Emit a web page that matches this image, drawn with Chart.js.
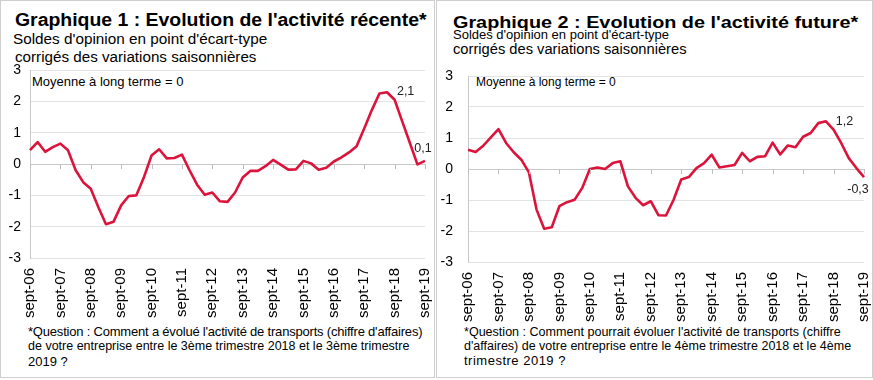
<!DOCTYPE html>
<html><head><meta charset="utf-8">
<script src="https://cdn.jsdelivr.net/npm/chart.js@4.4.0/dist/chart.umd.min.js"></script>
<style>
html,body{margin:0;padding:0;background:#fff;width:873px;height:380px;overflow:hidden;font-family:"Liberation Sans",Arial,sans-serif;color:#000}
.panel{position:absolute;top:0;height:378px;border:1px solid #cfcfcf;box-sizing:border-box}
.t{position:absolute;white-space:nowrap;line-height:1;transform-origin:0 0}
canvas{position:absolute}
</style></head>
<body>
<div class="panel" style="left:0;width:435px"></div>
<div class="panel" style="left:436px;width:437px"></div>

<div class="t" style="left:15px;top:12px;font-size:17.5px;font-weight:bold;transform:scaleX(1.11)">Graphique 1 : Evolution de l'activité récente*</div>
<div class="t" style="left:13px;top:31px;font-size:15.3px">Soldes d'opinion en point d'écart-type</div>
<div class="t" style="left:15px;top:49px;font-size:15.2px">corrigés des variations saisonnières</div>
<div class="t" style="left:32px;top:75px;font-size:13px">Moyenne à long terme = 0</div>
<div class="t" style="left:28px;top:325px;font-size:13px;letter-spacing:-0.2px">*Question : Comment a évolué l'activité de transports (chiffre d'affaires)</div>
<div class="t" style="left:28px;top:340px;font-size:12.5px">de votre entreprise entre le 3ème trimestre 2018 et le 3ème trimestre</div>
<div class="t" style="left:28px;top:355px;font-size:13px">2019 ?</div>

<div class="t" style="left:453px;top:14px;font-size:17px;font-weight:bold;transform:scaleX(1.165)">Graphique 2 : Evolution de l'activité future*</div>
<div class="t" style="left:453px;top:28px;font-size:13px">Soldes d'opinion en point d'écart-type</div>
<div class="t" style="left:453px;top:42px;font-size:14.7px">corrigés des variations saisonnières</div>
<div class="t" style="left:476px;top:76px;font-size:12px">Moyenne à long terme = 0</div>
<div class="t" style="left:464px;top:326px;font-size:12.55px">*Question : Comment pourrait évoluer l'activité de transports (chiffre</div>
<div class="t" style="left:464px;top:340px;font-size:12.5px">d'affaires) de votre entreprise entre le 4ème trimestre 2018 et le 4ème</div>
<div class="t" style="left:464px;top:354px;font-size:13px;letter-spacing:0.5px">trimestre 2019 ?</div>

<canvas id="c1" width="434" height="264" style="left:0;top:60px"></canvas>
<canvas id="c2" width="435" height="270" style="left:437px;top:60px"></canvas>

<script>
// Quarterly categories (sept-06 ... sept-19)
const categories = [
 'sept-06','déc-06','mars-07','juin-07',
 'sept-07','déc-07','mars-08','juin-08',
 'sept-08','déc-08','mars-09','juin-09',
 'sept-09','déc-09','mars-10','juin-10',
 'sept-10','déc-10','mars-11','juin-11',
 'sept-11','déc-11','mars-12','juin-12',
 'sept-12','déc-12','mars-13','juin-13',
 'sept-13','déc-13','mars-14','juin-14',
 'sept-14','déc-14','mars-15','juin-15',
 'sept-15','déc-15','mars-16','juin-16',
 'sept-16','déc-16','mars-17','juin-17',
 'sept-17','déc-17','mars-18','juin-18',
 'sept-18','déc-18','mars-19','juin-19',
 'sept-19'];

// Tick labels shown on the x axis
const tickLabels = ['sept-06','sept-07','sept-08','sept-09','sept-10','sept-11','sept-12',
 'sept-13','sept-14','sept-15','sept-16','sept-17','sept-18','sept-19'];

const yTicks = [-3,-2,-1,0,1,2,3];

// Graphique 1 : activité récente
const recentActivity = [
 0.44, 0.70, 0.39, 0.54,
 0.65, 0.44, -0.19, -0.58,
 -0.79, -1.38, -1.92, -1.84,
 -1.32, -1.02, -1.00, -0.42,
 0.27, 0.47, 0.18, 0.19,
 0.30, -0.20, -0.66, -0.98,
 -0.91, -1.19, -1.21, -0.91,
 -0.43, -0.22, -0.22, -0.07,
 0.13, -0.02, -0.18, -0.17,
 0.10, 0.02, -0.18, -0.12,
 0.08, 0.21, 0.37, 0.57,
 1.13, 1.72, 2.25, 2.29,
 2.05, 1.36, 0.68, -0.01,
 0.10];

// Graphique 2 : activité future
const futureActivity = [
 0.62, 0.55, 0.75, 1.02,
 1.29, 0.84, 0.54, 0.30,
 -0.11, -1.31, -1.93, -1.88,
 -1.20, -1.07, -0.99, -0.61,
 0.00, 0.05, 0.00, 0.19,
 0.25, -0.56, -0.93, -1.17,
 -1.04, -1.49, -1.50, -0.99,
 -0.34, -0.26, 0.03, 0.19,
 0.46, 0.05, 0.09, 0.13,
 0.52, 0.25, 0.39, 0.41,
 0.85, 0.47, 0.76, 0.70,
 1.04, 1.16, 1.48, 1.54,
 1.27, 0.84, 0.35, 0.03,
 -0.26];

// Value labels shown on the charts (category index, text)
const recentLabels = [[48, '2,1'], [52, '0,1']];
const futureLabels = [[48, '1,2'], [52, '-0,3']];

const FONT = '"Liberation Sans", Arial, sans-serif';

const extras = {
  id: 'extras',
  afterDatasetsDraw(chart, args, opts) {
    const ctx = chart.ctx;
    const xs = chart.scales.x, ys = chart.scales.y;
    const y0 = ys.getPixelForValue(0);
    ctx.save();
    ctx.strokeStyle = '#bfbfbf';
    ctx.lineWidth = 1;
    categories.forEach((c, i) => {
      if (tickLabels.includes(c)) {
        const x = Math.round(xs.getPixelForValue(i)) + 0.5;
        ctx.beginPath(); ctx.moveTo(x, y0); ctx.lineTo(x, y0 + 5); ctx.stroke();
      }
    });
    ctx.fillStyle = '#222';
    ctx.font = '12.5px ' + FONT;
    ctx.textAlign = 'center';
    ctx.textBaseline = 'middle';
    opts.labels.forEach(([idx, txt], k) => {
      const v = chart.data.datasets[0].data[idx];
      const off = opts.offsets[k];
      ctx.fillText(txt, xs.getPixelForValue(idx) + off[0], ys.getPixelForValue(v) + off[1]);
    });
    ctx.restore();
  }
};

function makeChart(id, values, labels, offsets, pad, yWidth, xHeight, yPad) {
  return new Chart(document.getElementById(id), {
    type: 'line',
    data: { labels: categories, datasets: [{ data: values, borderColor: '#DC143C', borderWidth: 2.6,
      pointRadius: 0, tension: 0, fill: false, borderJoinStyle: 'round' }] },
    options: {
      responsive: false, animation: false, devicePixelRatio: 1,
      layout: { padding: pad },
      plugins: { legend: { display: false }, tooltip: { enabled: false },
        extras: { labels: labels, offsets: offsets } },
      scales: {
        x: {
          type: 'category', offset: false,
          grid: { display: false, drawTicks: false },
          border: { display: false },
          ticks: { autoSkip: false, minRotation: 90, maxRotation: 90, padding: 10,
            color: '#000', font: { family: FONT, size: 15 },
            callback: (v, i) => tickLabels.includes(categories[i]) ? categories[i] : '' },
          afterFit: s => { s.height = xHeight; s.paddingLeft = 0; s.paddingRight = 0; }
        },
        y: {
          min: yTicks[0], max: yTicks[yTicks.length - 1],
          afterBuildTicks: s => { s.ticks = yTicks.map(v => ({ value: v })); },
          grid: { drawTicks: false, color: c => c.tick && c.tick.value === 0 ? '#c8c8c8' : '#e3e3e3' },
          border: { display: true, color: '#c8c8c8' },
          ticks: { padding: yPad, color: '#000', font: { family: FONT, size: 14 } },
          afterFit: s => { s.width = yWidth; s.paddingTop = 0; s.paddingBottom = 0; }
        }
      }
    },
    plugins: [extras]
  });
}

makeChart('c1', recentActivity, recentLabels, [[11, -8], [-2, -12]],
  { top: 10, right: 9, left: 0, bottom: 0 }, 30, 66, 9);
makeChart('c2', futureActivity, futureLabels, [[11, -8], [-6, 12]],
  { top: 16, right: 8, left: 0, bottom: 0 }, 31, 68, 15);
</script>
</body></html>
